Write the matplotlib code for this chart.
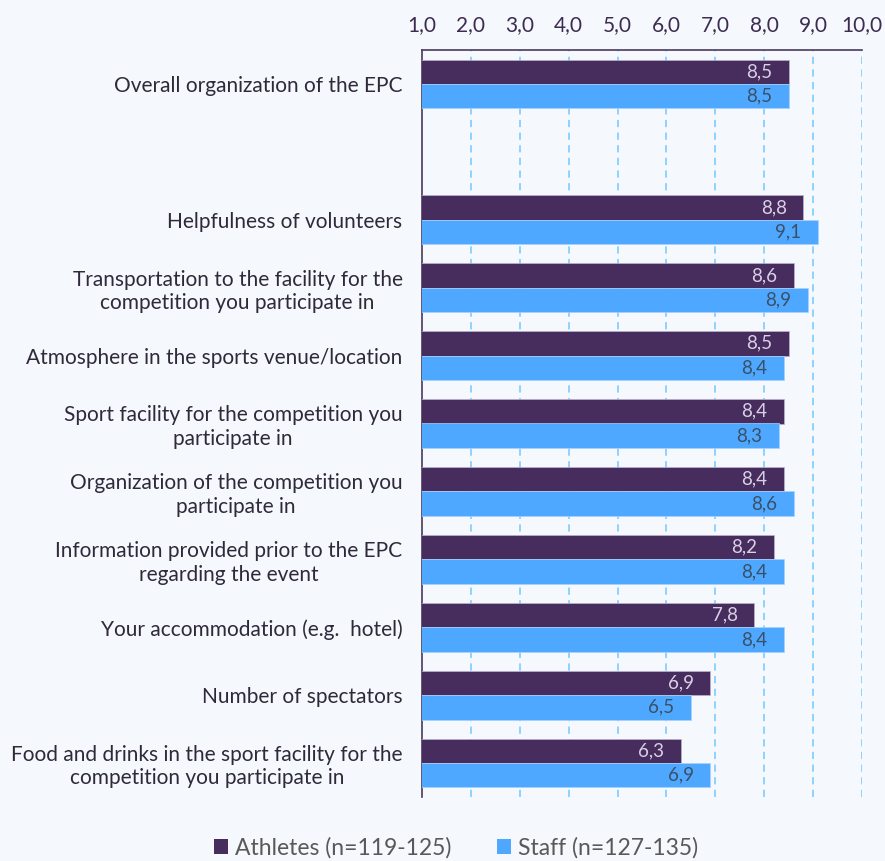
import matplotlib
matplotlib.use("Agg")
import matplotlib.pyplot as plt
from matplotlib.patches import Patch
import numpy as np

plt.rcParams['font.family'] = ['Lato', 'DejaVu Sans']

categories = [
    "Overall organization of the EPC",
    "",
    "Helpfulness of volunteers",
    "Transportation to the facility for the\ncompetition you participate in",
    "Atmosphere in the sports venue/location",
    "Sport facility for the competition you\nparticipate in",
    "Organization of the competition you\nparticipate in",
    "Information provided prior to the EPC\nregarding the event",
    "Your accommodation (e.g.  hotel)",
    "Number of spectators",
    "Food and drinks in the sport facility for the\ncompetition you participate in",
]
athletes = [8.5, None, 8.8, 8.6, 8.5, 8.4, 8.4, 8.2, 7.8, 6.9, 6.3]
staff = [8.5, None, 9.1, 8.9, 8.4, 8.3, 8.6, 8.4, 8.4, 6.5, 6.9]
xticks = [1, 2, 3, 4, 5, 6, 7, 8, 9, 10]
series_names = ["Athletes (n=119-125)", "Staff (n=127-135)"]

bg = '#f5f8fd'
c_ath = '#472c5e'
c_staff = '#4fa8ff'

fig = plt.figure(figsize=(8.85, 8.61), dpi=100, facecolor=bg)
ax = fig.add_axes([422/885, 1-797/861, 440/885, 747/861])
ax.set_facecolor(bg)

h = 0.36
y = np.arange(len(categories))
for i, (a, s) in enumerate(zip(athletes, staff)):
    if a is None:
        continue
    ax.barh(i - h/2, a, height=h, color=c_ath, edgecolor='#bdb3cc', linewidth=0.5, zorder=3)
    ax.barh(i + h/2, s, height=h, color=c_staff, edgecolor='#a9d2ff', linewidth=0.5, zorder=3)
    ax.annotate(f"{a:.1f}".replace('.', ','), (a, i - h/2), xytext=(-12, 0),
                textcoords='offset points', ha='right', va='center',
                fontsize=13.5, color='#d9d0e6', zorder=4)
    ax.annotate(f"{s:.1f}".replace('.', ','), (s, i + h/2), xytext=(-12, 0),
                textcoords='offset points', ha='right', va='center',
                fontsize=13.5, color='#3a5068', zorder=4)

ax.set_xlim(1, 10)
ax.set_ylim(len(categories) - 0.5, -0.5)
ax.xaxis.tick_top()
ax.set_xticks(xticks)
ax.set_xticklabels([f"{t:.1f}".replace('.', ',') for t in xticks], fontsize=15, color='#3d2b50')
ax.tick_params(axis='x', length=0, pad=11)
ax.set_yticks(y)
ax.set_yticklabels(categories, fontsize=15, color='#2f2a3a', multialignment='center')
ax.tick_params(axis='y', length=0, pad=14)

for x in xticks[1:]:
    ax.axvline(x, color='#86d0ff', linestyle=(0, (4, 3)), linewidth=1.3, zorder=1)

for side in ['right', 'bottom']:
    ax.spines[side].set_visible(False)
ax.spines['top'].set_color('#4a3a5e')
ax.spines['left'].set_color('#4a3a5e')
ax.spines['top'].set_linewidth(1.2)
ax.spines['left'].set_linewidth(1.2)

handles = [Patch(facecolor=c_ath, edgecolor='none'), Patch(facecolor=c_staff, edgecolor='none')]
fig.legend(handles, series_names, loc='center', bbox_to_anchor=(456/885, 1-848/861),
           ncol=2, frameon=False, fontsize=16.5, labelcolor='#595959',
           handlelength=0.6, handleheight=0.6, handletextpad=0.3, columnspacing=2.0)

fig.savefig('out.png', dpi=100, facecolor=bg)
